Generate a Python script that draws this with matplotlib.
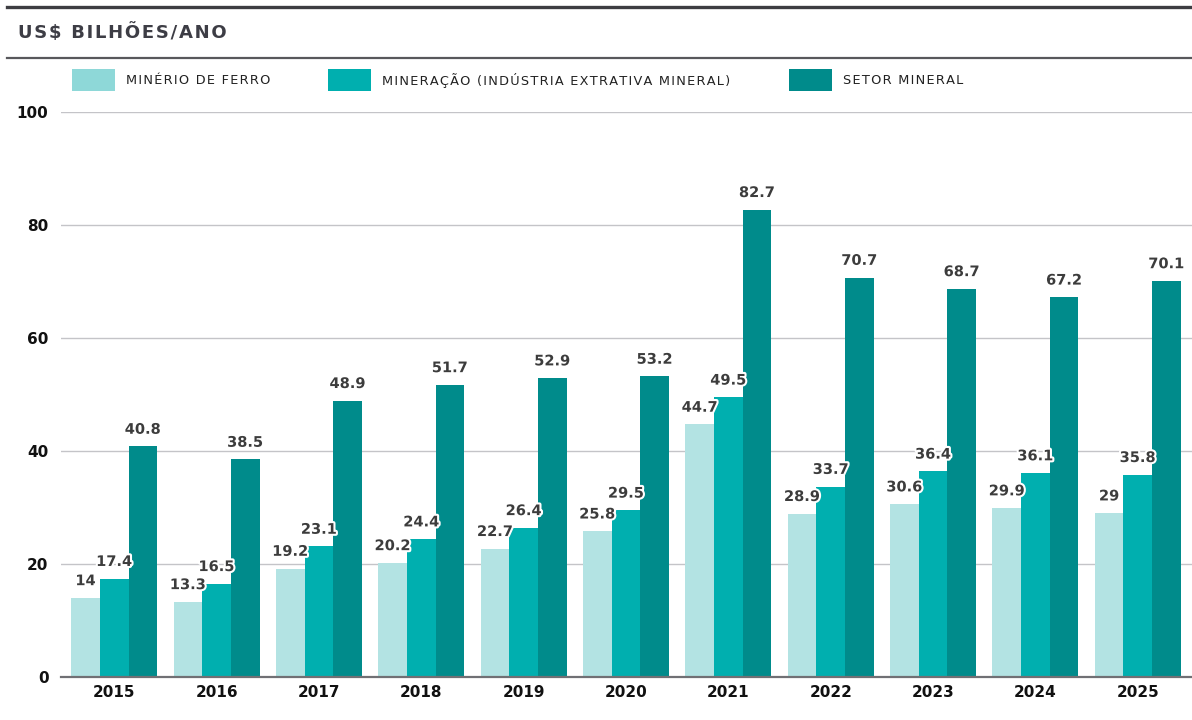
import matplotlib
matplotlib.use("Agg")
import matplotlib.pyplot as plt
import matplotlib.patheffects as pe
from matplotlib.patches import Rectangle
from matplotlib.lines import Line2D
import numpy as np

years = ["2015", "2016", "2017", "2018", "2019", "2020", "2021", "2022", "2023", "2024", "2025"]
minerio_ferro = [14, 13.3, 19.2, 20.2, 22.7, 25.8, 44.7, 28.9, 30.6, 29.9, 29]
mineracao = [17.4, 16.5, 23.1, 24.4, 26.4, 29.5, 49.5, 33.7, 36.4, 36.1, 35.8]
setor_mineral = [40.8, 38.5, 48.9, 51.7, 52.9, 53.2, 82.7, 70.7, 68.7, 67.2, 70.1]
series_names = ["MINÉRIO DE FERRO", "MINERAÇÃO (INDÚSTRIA EXTRATIVA MINERAL)", "SETOR MINERAL"]

bar_colors = ["#b3e3e3", "#00afaf", "#008b8b"]
legend_colors = ["#8ed8d8", "#00afaf", "#008b8b"]
text_dark = "#3c3c3c"

W, H = 1192, 720
fig = plt.figure(figsize=(W / 100, H / 100), dpi=100)

def px(x, y):
    # pixel coords (top-left origin) -> figure fraction
    return x / W, 1 - y / H

def spaced(s):
    # fake letter spacing with hair spaces
    return "\u200a".join(s)

# header rules and title
fig.add_artist(Line2D([7 / W, 1], [1 - 7 / H] * 2, color="#3d3d42", lw=2.4))
fig.add_artist(Line2D([7 / W, 1], [1 - 57.5 / H] * 2, color="#58585c", lw=1.6))
fig.text(*px(18, 33), spaced("US$ BILHÕES/ANO"), fontsize=13, fontweight="bold",
         color="#3d3d45", va="center", ha="left", family="DejaVu Sans")

# legend drawn by hand
swatch_x = [72, 328, 789]
for sx, name, c in zip(swatch_x, series_names, legend_colors):
    x0, y0 = px(sx, 91)
    fig.add_artist(Rectangle((x0, y0), 43 / W, 22 / H, transform=fig.transFigure,
                             color=c, lw=0))
    fig.text(*px(sx + 54, 81), spaced(name), fontsize=9.3, color="#222222",
             va="center", ha="left", family="DejaVu Sans")

# main axes: y=0 at px 677, y=100 at px 112, x from 61 to 1192
left, bottom = px(61, 677)
ax = fig.add_axes([left, bottom, 1 - left, (677 - 112) / H])

x = np.arange(len(years))
w = 0.28
all_series = [minerio_ferro, mineracao, setor_mineral]
for i, (vals, c) in enumerate(zip(all_series, bar_colors)):
    pos = x + (i - 1) * w
    ax.bar(pos, vals, width=w, color=c, zorder=2, lw=0)
    for p, v in zip(pos, vals):
        t = ax.annotate(f"{v:g}", (p, v), xytext=(0, 7), textcoords="offset points",
                        ha="center", va="bottom", fontsize=10.5, fontweight="bold",
                        color=text_dark, zorder=4)
        t.set_path_effects([pe.withStroke(linewidth=3, foreground="white")])

ax.set_xlim(-0.52, len(years) - 1 + 0.53)
ax.set_ylim(0, 100)
ax.set_yticks([0, 20, 40, 60, 80, 100])
ax.set_xticks(x)
ax.set_xticklabels(years)
ax.grid(axis="y", color="#c4c4c8", lw=1, zorder=0)
ax.set_axisbelow(True)
for s in ["top", "right", "left"]:
    ax.spines[s].set_visible(False)
ax.spines["bottom"].set_color("#707074")
ax.spines["bottom"].set_linewidth(1.6)
ax.spines["bottom"].set_zorder(5)
ax.tick_params(axis="both", length=0, labelsize=11, labelcolor="#111111")
ax.tick_params(axis="y", pad=9)
ax.tick_params(axis="x", pad=6)
for lab in ax.get_xticklabels() + ax.get_yticklabels():
    lab.set_fontweight("bold")

fig.savefig("out.png", dpi=100)
